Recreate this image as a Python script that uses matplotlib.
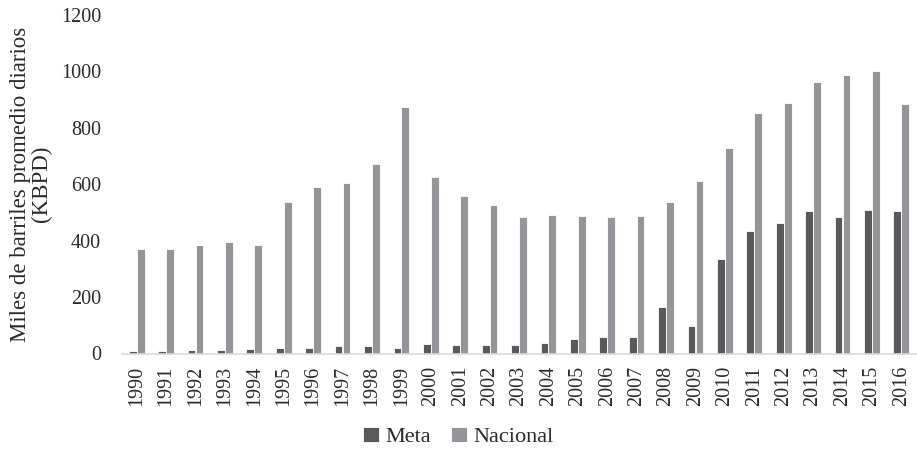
import matplotlib
matplotlib.use('Agg')
import matplotlib.pyplot as plt
import numpy as np

plt.rcParams['font.family'] = ['Liberation Serif', 'DejaVu Serif']

years = [str(y) for y in range(1990, 2017)]
meta = [9, 10, 12, 13, 15, 18, 21, 26, 26, 20, 35, 31, 30, 29, 37,
        50, 57, 58, 164, 99, 335, 433, 462, 506, 484, 509, 505]
nacional = [370, 370, 386, 394, 385, 537, 590, 603, 673, 873, 627, 560, 527, 484, 490,
            486, 484, 487, 537, 612, 729, 853, 888, 963, 988, 1003, 884]

fig = plt.figure(figsize=(9.17, 4.55), dpi=100)
ax = fig.add_axes([122 / 917, 1 - 353.5 / 455, (916 - 122) / 917, (353.5 - 15) / 455])

x = np.arange(len(years))
w = 0.265
ax.bar(x - 0.135, meta, w, color='#595959', edgecolor='white', linewidth=0.6, label='Meta')
ax.bar(x + 0.135, nacional, w, color='#939598', edgecolor='white', linewidth=0.6, label='Nacional')

ax.set_xlim(-0.5, len(years) - 0.5)
ax.set_ylim(0, 1200)
ax.set_yticks(range(0, 1201, 200))
ax.set_xticks(x)
ax.set_xticklabels(years, rotation=90)
ax.tick_params(axis='both', length=0, labelsize=14.5, colors='#2b2b2b')
ax.tick_params(axis='x', pad=9)
ax.tick_params(axis='y', pad=15)

for s in ['top', 'right', 'left']:
    ax.spines[s].set_visible(False)
ax.spines['bottom'].set_color('#d9d9d9')
ax.spines['bottom'].set_linewidth(1.2)

ax.set_ylabel('Miles de barriles promedio diarios\n(KBPD)', fontsize=16.5, color='#2b2b2b',
              linespacing=1.0)
ax.yaxis.set_label_coords(-0.088, 0.5)

fig.legend(loc='center', bbox_to_anchor=(0.5, 1 - 437 / 455), ncol=2, frameon=False,
           fontsize=16, handlelength=0.7, handleheight=0.7, handletextpad=0.3,
           columnspacing=0.9, labelcolor='#2b2b2b')

fig.savefig('out.png', dpi=100)
